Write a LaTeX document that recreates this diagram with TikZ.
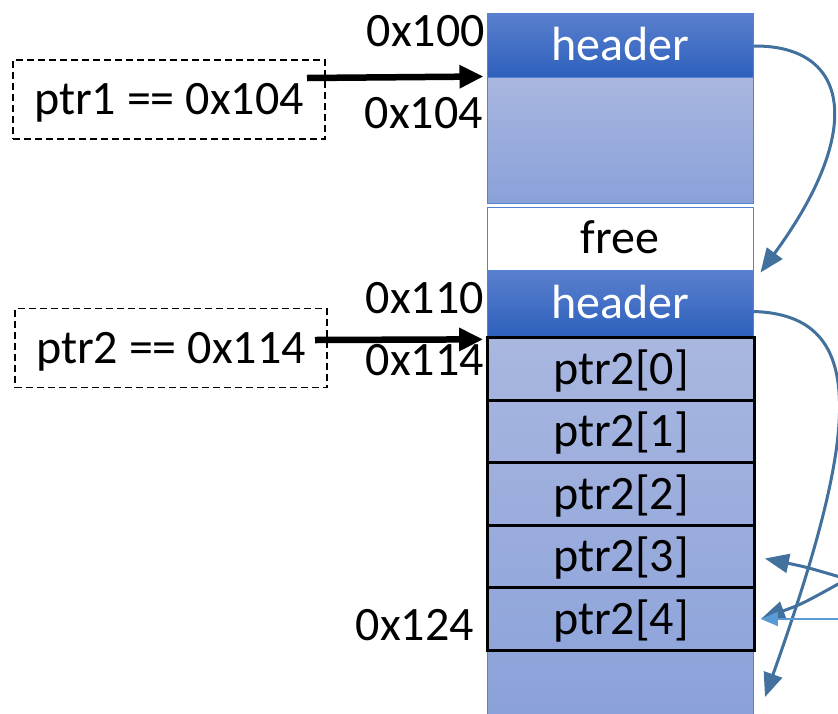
\documentclass[tikz,border=0pt]{standalone}
\usepackage{fontspec}
\setmainfont{Carlito}
\usetikzlibrary{arrows.meta}
\definecolor{hdrtop}{HTML}{5A80CE}
\definecolor{hdrbot}{HTML}{2E60BC}
\definecolor{bodytop}{HTML}{A9B7E0}
\definecolor{bodybot}{HTML}{8AA1D9}
\definecolor{blockedge}{HTML}{5282D2}
\definecolor{linkblue}{HTML}{41719C}
\definecolor{thinblue}{HTML}{5B9BD5}
\tikzset{
  every node/.style={font=\fontsize{48}{52}\selectfont, inner sep=0pt},
  blockbase/.style={rectangle, draw=blockedge, line width=1pt, minimum width=266pt,
    text height=30pt, text depth=0pt},
  hdr/.style={blockbase, top color=hdrtop, bottom color=hdrbot, text=white},
  body/.style={blockbase, top color=bodytop, bottom color=bodybot},
  freebox/.style={blockbase, fill=white},
  cell/.style={rectangle, draw=black, line width=2.8pt, minimum width=267pt,
    minimum height=62.5pt, text height=30pt, text depth=0pt},
  addr/.style={anchor=east, text height=30pt, text depth=0pt},
  varbox/.style={rectangle, draw=black, dashed, dash pattern=on 7pt off 4pt,
    line width=1.5pt, minimum width=312pt, minimum height=79pt,
    text height=30pt, text depth=0pt},
  ptrarrow/.style={line width=6.5pt, -{Triangle[length=24pt,width=22pt]}},
  link/.style={draw=linkblue, line width=3pt,
    -{Triangle[length=24pt,width=19pt]}},
  thinlink/.style={draw=thinblue, line width=1.6pt,
    -{Triangle[length=17pt,width=14pt]}},
}
\begin{document}
\begin{tikzpicture}[x=1pt,y=-1pt]
\useasboundingbox (0,0) rectangle (838,713);
\fill[white] (0,0) rectangle (838,713);

% first allocated block
\node[hdr, minimum height=64pt] (h1) at (620,45) {header};
\node[body, minimum height=126pt] (b1) at (620,140) {};
% free gap
\node[freebox, minimum height=63pt] (fr) at (620,238.5) {free};
% second allocated block
\node[body, minimum height=383pt] (b2) at (620,528.5) {};
\node[hdr, minimum height=67pt] (h2) at (620,303.5) {header};
\node[cell] (p0) at (621,369) {ptr2[0]};
\node[cell] (p1) at (621,431.5) {ptr2[1]};
\node[cell] (p2) at (621,494) {ptr2[2]};
\node[cell] (p3) at (621,556.5) {ptr2[3]};
\node[cell] (p4) at (621,619) {ptr2[4]};

% addresses
\node[addr] (a100) at (485,31) {0x100};
\node[addr] (a104) at (483,113) {0x104};
\node[addr] (a110) at (484,298) {0x110};
\node[addr] (a114) at (484,360) {0x114};
\node[addr] (a124) at (474,625) {0x124};

% pointer variables
\node[varbox] (v1) at (169,99.5) {ptr1 == 0x104};
\node[varbox] (v2) at (171,348) {ptr2 == 0x114};

\coordinate (s1) at (307,78);
\coordinate (s2) at (315,340);
\draw[ptrarrow] (s1) -- ([xshift=-3pt]b1.north west);
\draw[ptrarrow] (s2) -- ([xshift=-3pt,yshift=-3pt]p0.north west);

% header links
\draw[link] ([yshift=-1pt]h1.east) .. controls (850,45) and (865,130) .. ([xshift=7pt,yshift=-2pt]fr.south east);
\draw[link] ([yshift=-8pt]h2.east) .. controls (870,315) and (860,430) .. (765,697);

% links coming in from the right
\coordinate (r3) at (840,577);
\coordinate (r4) at (840,583);
\coordinate (r5) at (840,619);
\draw[link] (r3) .. controls (806,567) .. ([xshift=9pt,yshift=-2pt]p3.east);
\draw[link] (r4) .. controls (802,604) .. ([xshift=5pt]p4.east);
\draw[thinlink] (r5) -- ([xshift=5pt]p4.east);
\end{tikzpicture}
\end{document}
